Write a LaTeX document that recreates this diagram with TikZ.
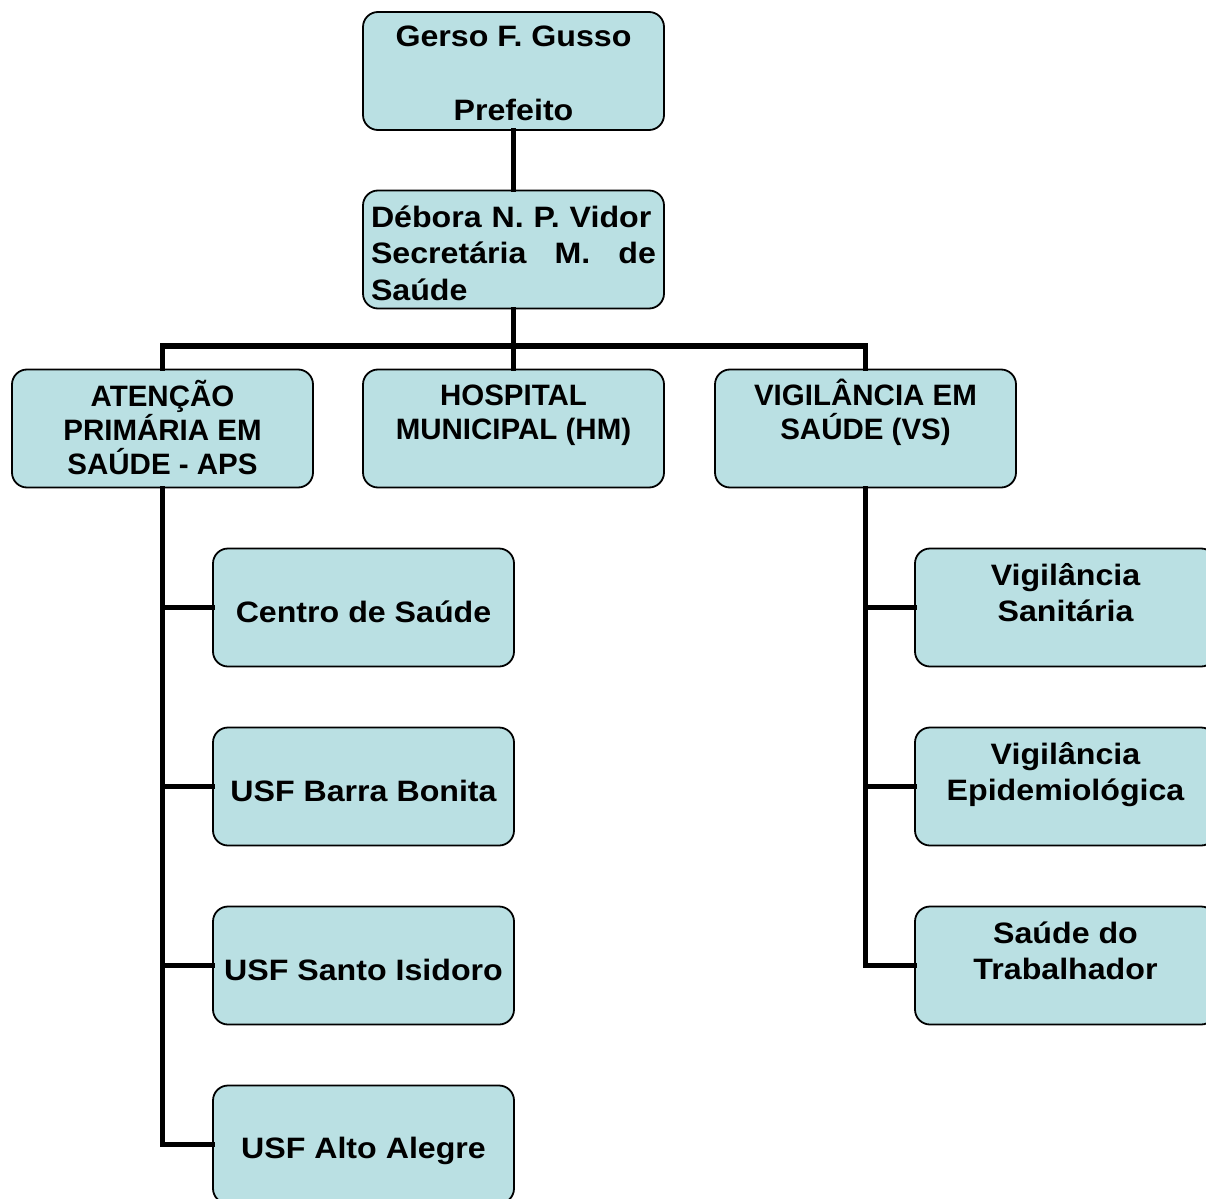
\documentclass[tikz,border=0pt]{standalone}
\usepackage{fontspec}
\setmainfont{Liberation Sans}
\newfontfamily\widefont{Liberation Sans}[FakeStretch=1.09]
\definecolor{boxblue}{RGB}{186,224,227}
\newcommand{\topstrut}{\rule{0pt}{30pt}}
\tikzset{
  orgbox/.style={draw=black, line width=1.8pt, fill=boxblue, rounded corners=15pt,
    minimum width=301pt, minimum height=118pt, inner sep=0pt},
  captxt/.style={anchor=north, inner sep=0pt, align=center,
    font=\bfseries\fontsize{29.5}{34.3}\selectfont},
  mixtxt/.style={anchor=north, inner sep=0pt, align=center,
    font=\widefont\bfseries\fontsize{29.5}{36.5}\selectfont},
  conn/.style={line width=5.5pt, line join=miter, line cap=rect}
}
\begin{document}
\begin{tikzpicture}[x=1pt, y=-1pt]
\useasboundingbox (0,0) rectangle (1206,1198);
\clip (0,0) rectangle (1206,1198);
\coordinate (bus) at (513.5,346);
% boxes
\node[orgbox] (gerso) at (513.5,71) {};
\node[orgbox] (debora) at (513.5,249.5) {};
\node[orgbox] (aps) at (162.5,428.5) {};
\node[orgbox] (hm) at (513.5,428.5) {};
\node[orgbox] (vs) at (865.5,428.5) {};
\node[orgbox] (cs) at (363.5,607.5) {};
\node[orgbox] (bb) at (363.5,786.5) {};
\node[orgbox] (si) at (363.5,965.5) {};
\node[orgbox] (aa) at (363.5,1144.5) {};
\node[orgbox] (vsan) at (1065.5,607.5) {};
\node[orgbox] (vepi) at (1065.5,786.5) {};
\node[orgbox] (trab) at (1065.5,965.5) {};
% texts
\node[mixtxt, font=\widefont\bfseries\fontsize{29.5}{37}\selectfont] (tgerso) at (513.5,16) {\topstrut Gerso F. Gusso\\[37pt]Prefeito};
\node[mixtxt, text width=285pt, align=left] (tdebora) at (513.5,197)
  {\topstrut\makebox[285pt][s]{Débora N. P. Vidor}\\\makebox[285pt][s]{Secretária\hspace{0pt plus 1fil}M.\hspace{0pt plus 1fil}de}\\Saúde};
\node[captxt] (taps) at (162.5,376) {\topstrut ATENÇÃO\\PRIMÁRIA EM\\SAÚDE - APS};
\node[captxt] (thm) at (513.5,375) {\topstrut HOSPITAL\\MUNICIPAL (HM)};
\node[captxt] (tvs) at (865.5,375) {\topstrut VIGILÂNCIA EM\\SAÚDE (VS)};
\node[mixtxt] (tcs) at (363.5,592) {\topstrut Centro de Saúde};
\node[mixtxt] (tbb) at (363.5,771) {\topstrut USF Barra Bonita};
\node[mixtxt] (tsi) at (363.5,950) {\topstrut USF Santo Isidoro};
\node[mixtxt] (taa) at (363.5,1128.5) {\topstrut USF Alto Alegre};
\node[mixtxt] (tvsan) at (1065.5,555) {\topstrut Vigilância\\Sanitária};
\node[mixtxt] (tvepi) at (1065.5,734) {\topstrut Vigilância\\Epidemiológica};
\node[mixtxt] (ttrab) at (1065.5,913) {\topstrut Saúde do\\Trabalhador};
% connectors
\draw[conn] (gerso.south) -- (debora.north);
\draw[conn] (debora.south) -- (hm.north);
\draw[conn] (aps.north) |- (bus) -| (vs.north);
\draw[conn] (aps.south) |- (aa.west);
\draw[conn] (aps.south |- cs.west) -- (cs.west);
\draw[conn] (aps.south |- bb.west) -- (bb.west);
\draw[conn] (aps.south |- si.west) -- (si.west);
\draw[conn] (vs.south) |- (trab.west);
\draw[conn] (vs.south |- vsan.west) -- (vsan.west);
\draw[conn] (vs.south |- vepi.west) -- (vepi.west);
\end{tikzpicture}
\end{document}
